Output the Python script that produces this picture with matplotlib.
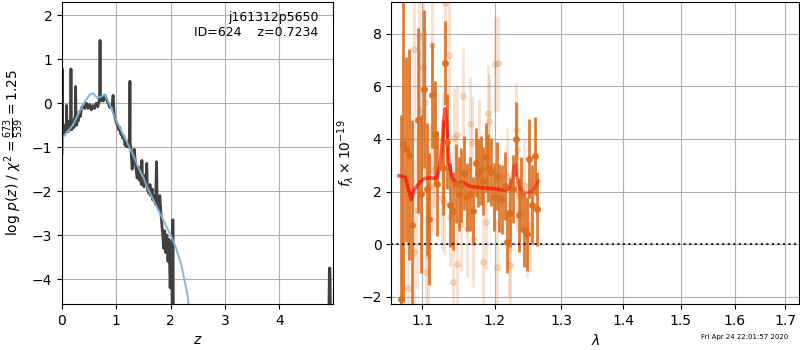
import matplotlib
matplotlib.use('Agg')
import matplotlib.pyplot as plt
from matplotlib.ticker import NullLocator, FixedLocator, FixedFormatter

# --- p(z) panel ---
z_grid = [0.0, 0.005, 0.01, 0.02, 0.03, 0.04, 0.05, 0.06, 0.07, 0.08, 0.085, 0.09,
          0.10, 0.11, 0.12, 0.13, 0.14, 0.15, 0.16, 0.165, 0.17, 0.18, 0.19, 0.20,
          0.21, 0.22, 0.23, 0.24, 0.25, 0.26, 0.27, 0.28, 0.30, 0.32, 0.34, 0.36,
          0.39, 0.42, 0.45, 0.48, 0.51, 0.54, 0.57, 0.60, 0.63, 0.66, 0.69, 0.70,
          0.71, 0.73, 0.76, 0.79, 0.82, 0.85, 0.88, 0.92, 0.94, 0.96, 0.99, 1.02,
          1.04, 1.06, 1.08, 1.10, 1.12, 1.14, 1.16, 1.17, 1.18, 1.20, 1.22, 1.23,
          1.245, 1.25, 1.255, 1.27, 1.29, 1.31, 1.33, 1.35, 1.38, 1.41, 1.42, 1.44,
          1.46, 1.47, 1.48, 1.51, 1.52, 1.54, 1.56, 1.57, 1.60, 1.62, 1.63, 1.66,
          1.67, 1.69, 1.72, 1.74, 1.75, 1.78, 1.80, 1.82, 1.85, 1.87, 1.89, 1.91,
          1.93, 1.95, 1.97, 1.99, 2.01, 2.03, 2.04, 2.05, 2.07, 2.15,
          3.0, 4.0, 4.90, 4.92, 4.93, 4.95, 4.99]
log_pz = [-1.15, 0.78, -0.7, -0.6, -0.7, -0.5, -0.65, -0.5, -0.6, -0.45, -0.05, -0.6,
          -0.5, -0.65, -0.45, -0.6, -0.4, -0.6, -0.5, 0.78, -0.5, -0.6, -0.45, -0.55,
          -0.4, -0.55, -0.35, -0.5, 0.38, -0.4, -0.5, -0.35, -0.4, -0.2, -0.3, -0.1,
          -0.05, -0.12, 0.0, -0.12, -0.03, -0.15, -0.05, -0.12, 0.0, -0.08, 0.1, 1.43,
          0.05, 0.15, 0.05, 0.18, 0.08, 0.0, -0.1, -0.05, 0.18, -0.25, -0.4, -0.5,
          -0.6, -0.55, -0.7, -0.72, -0.8, -0.75, -0.95, -0.85, -0.98, -0.9, -1.0, -0.95,
          -0.6, 0.5, -0.9, -1.05, -1.5, -1.3, -1.05, -1.35, -1.7, -1.45, -1.75, -1.6,
          -1.85, -1.3, -1.75, -1.9, -1.65, -1.8, -1.37, -1.95, -2.05, -1.85, -2.1, -1.95,
          -2.2, -2.1, -2.3, -1.33, -2.25, -2.4, -2.1, -2.5, -2.95, -3.3,
          -2.9, -3.4, -3.0, -3.6, -3.1, -4.2, -3.2, -4.8, -2.65, -4.8, -6.0, -6.0,
          -6.0, -6.0, -6.0, -3.75, -3.75, -6.0, -6.0]

z_smooth = [0.0, 0.1, 0.2, 0.3, 0.4, 0.5, 0.57, 0.65, 0.72, 0.78, 0.85, 0.9, 1.0,
            1.1, 1.2, 1.3, 1.4, 1.5, 1.6, 1.7, 1.8, 1.9, 2.0, 2.1, 2.2, 2.3, 2.38]
log_pz_smooth = [-0.8, -0.65, -0.5, -0.25, 0.0, 0.18, 0.23, 0.12, 0.15, 0.2, 0.05, -0.1,
                 -0.4, -0.65, -0.9, -1.15, -1.45, -1.7, -2.0, -2.25, -2.5, -2.75, -3.0,
                 -3.3, -3.7, -4.3, -5.0]

# --- spectrum panel (flux in 1e-19) ---
wave_a = [1.073, 1.075, 1.079, 1.083, 1.087, 1.094, 1.098, 1.102, 1.106, 1.109, 1.113,
          1.117, 1.120, 1.128, 1.131, 1.134, 1.138, 1.142, 1.146, 1.150, 1.153, 1.157,
          1.161, 1.165, 1.169, 1.173, 1.176, 1.180, 1.183, 1.187, 1.191, 1.195, 1.199,
          1.203, 1.207, 1.211, 1.215, 1.218, 1.222, 1.227, 1.231, 1.235, 1.239, 1.243,
          1.247, 1.250, 1.255, 1.259, 1.263]
flux_a = [-2.1, 3.8, 3.6, 3.4, 0.73, 4.7, 1.9, 5.9, 2.1, 0.96, 5.66,
          4.2, 2.3, 2.9, 6.9, 3.9, 1.5, 1.26, 2.3, 1.9, 2.25, 2.7,
          1.8, 1.9, 1.26, 3.1, 2.7, 2.8, 2.4, 3.3, 2.9, 2.75, 1.8,
          2.6, 1.75, 1.7, 2.2, 0.1, 1.2, 2.1, 4.0, 1.1, 1.9, 0.55,
          0.38, 3.25, 1.5, 3.35, 1.33]
err_a = [7.0, 6.0, 3.5, 4.0, 4.0, 3.5, 3.0, 3.0, 2.5, 2.5, 2.0,
         2.0, 2.0, 1.8, 1.6, 1.8, 1.6, 1.5, 1.5, 1.4, 1.4, 1.4,
         1.3, 1.4, 1.3, 1.3, 1.3, 1.3, 1.3, 1.3, 1.3, 1.3, 1.3,
         1.3, 1.3, 1.3, 1.3, 1.2, 1.3, 1.3, 1.4, 1.4, 1.4, 1.4,
         1.4, 1.5, 1.5, 1.5, 1.4]

wave_b = [1.081, 1.089, 1.090, 1.093, 1.096, 1.0965, 1.097, 1.101, 1.104, 1.105, 1.108,
          1.111, 1.113, 1.115, 1.116, 1.127, 1.1275, 1.129, 1.131, 1.136, 1.138, 1.141,
          1.1425, 1.1466, 1.147, 1.152, 1.155, 1.161, 1.165, 1.168, 1.169, 1.178, 1.1835,
          1.188, 1.191, 1.1915, 1.200, 1.204, 1.2045, 1.218, 1.2205, 1.222, 1.231, 1.232,
          1.233, 1.243, 1.248, 1.2515]
flux_b = [-1.67, -0.3, 7.4, 1.3, 4.43, 7.9, 5.1, 6.75, 5.4, -1.06, -0.45,
          2.18, 7.58, 2.8, 3.72, 1.77, 3.77, 1.6, 9.15, 7.2, 1.05, -1.45,
          4.05, 4.14, -0.76, 0.77, 5.64, 0.57, 4.55, 3.83, 0.19, 3.7, -0.68,
          0.86, 5.0, 4.68, 6.83, -0.87, 6.88, 2.6, -0.2, -0.78, 4.33, 3.57,
          2.3, 2.25, 0.54, 0.73]
err_b = [4.0, 3.5, 3.5, 3.0, 3.0, 3.0, 3.0, 2.8, 2.8, 2.6, 2.5,
         2.4, 2.4, 2.3, 2.3, 2.0, 2.0, 2.0, 2.0, 2.0, 1.9, 1.9,
         1.9, 1.9, 1.9, 1.8, 1.8, 1.8, 1.8, 1.8, 1.8, 1.8, 1.8,
         1.8, 1.8, 1.8, 1.8, 1.8, 1.8, 1.8, 1.8, 1.8, 1.8, 1.8,
         1.8, 1.8, 1.8, 1.8]

model_wave = [1.070, 1.078, 1.082, 1.086, 1.089, 1.093, 1.097, 1.103, 1.110, 1.116,
              1.120, 1.124, 1.127, 1.129, 1.131, 1.133, 1.136, 1.140, 1.145, 1.150,
              1.155, 1.165, 1.180, 1.200, 1.215, 1.221, 1.225, 1.228, 1.230, 1.233,
              1.237, 1.245, 1.255, 1.265]
model_flux = [2.6, 2.55, 2.1, 1.68, 2.05, 2.2, 2.35, 2.5, 2.52, 2.5,
              2.55, 3.0, 3.9, 4.7, 5.15, 4.6, 3.1, 2.55, 2.35, 2.3,
              2.35, 2.2, 2.15, 2.1, 2.05, 2.1, 2.4, 2.95, 3.0, 2.5,
              2.1, 1.95, 2.0, 2.4]

wave_ticks = [1.1, 1.2, 1.3, 1.4, 1.5, 1.6, 1.7]

fig = plt.figure(figsize=(8, 3.5), dpi=100)
ax1 = fig.add_axes([0.0775, 0.131, 0.339, 0.863])
ax2 = fig.add_axes([0.489, 0.131, 0.510, 0.863])

ax1.plot(z_grid, log_pz, color='0.25', lw=2)
ax1.plot(z_smooth, log_pz_smooth, color='#7fb3d8', lw=1.5, alpha=0.9)
ax1.set_xlim(0, 4.99)
ax1.set_ylim(-4.57, 2.3)
ax1.set_xticks([0, 1, 2, 3, 4])
ax1.set_yticks([-4, -3, -2, -1, 0, 1, 2])
ax1.grid()
ax1.set_xlabel('$z$')
ax1.set_ylabel(r'log $p(z)$ / $\chi^2=\frac{673}{539}=1.25$')
ax1.text(0.945, 0.97, 'j161312p5650\nID=624    z=0.7234', transform=ax1.transAxes,
         ha='right', va='top', fontsize=9, linespacing=1.2)

orange = '#dc6e1e'
ax2.errorbar(wave_b, flux_b, yerr=err_b, fmt='o', color=orange, alpha=0.2,
             ms=4, elinewidth=2, capsize=0)
ax2.errorbar(wave_a, flux_a, yerr=err_a, fmt='o', color=orange, alpha=0.9,
             ms=4, elinewidth=2, capsize=0)
ax2.plot(model_wave, model_flux, color='red', lw=2.5, alpha=0.4)
ax2.plot(model_wave[:26], model_flux[:26], color='red', lw=2.5, alpha=0.4)
ax2.axhline(0, color='k', ls=':', lw=1.5, alpha=0.8)

ax2.set_xscale('log')
ax2.xaxis.set_major_locator(FixedLocator(wave_ticks))
ax2.xaxis.set_major_formatter(FixedFormatter([str(w) for w in wave_ticks]))
ax2.xaxis.set_minor_locator(NullLocator())
ax2.set_xlim(1.06, 1.729)
ax2.set_ylim(-2.28, 9.2)
ax2.set_yticks([-2, 0, 2, 4, 6, 8])
ax2.grid()
ax2.set_xlabel(r'$\lambda$')
ax2.set_ylabel(r'$f_\lambda \times 10^{-19}$')

fig.text(0.985, 0.03, 'Fri Apr 24 22:01:57 2020', ha='right', va='bottom', fontsize=5)

fig.savefig('out.png', dpi=100)
